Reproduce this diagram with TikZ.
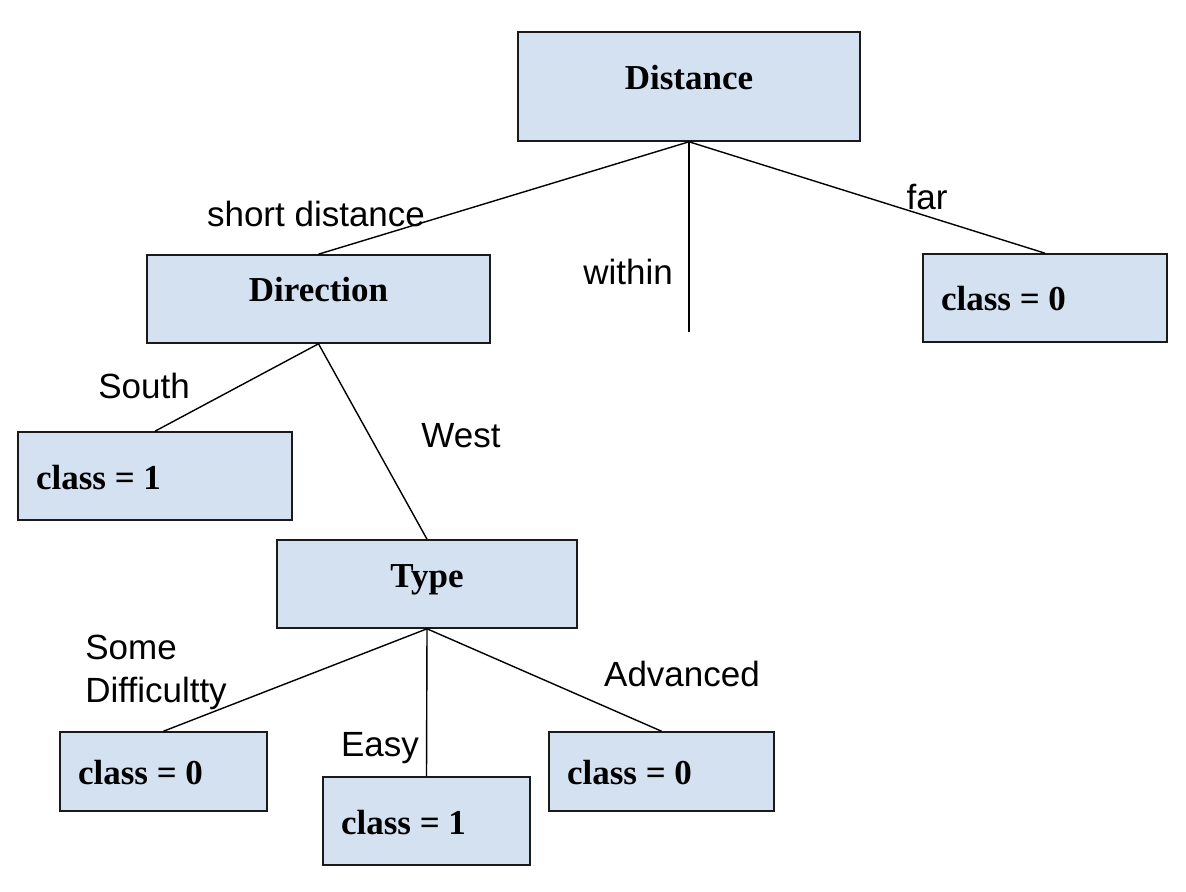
\documentclass[tikz,border=0pt]{standalone}
\usepackage{fontspec}
\setmainfont{Liberation Serif}
\newfontfamily\labelfont{Liberation Sans}
\definecolor{boxfill}{HTML}{D4E1F1}
\definecolor{boxline}{HTML}{1A1A1A}
\tikzset{
  treebox/.style={draw=boxline, fill=boxfill, line width=0.8pt, inner sep=0pt,
    font=\fontsize{17.5}{21}\selectfont\bfseries},
  headbox/.style={treebox, text height=12pt, text depth=9pt},
  classbox/.style={treebox, inner xsep=9pt, text width=#1, align=left,
    text height=13pt, text depth=0pt,
    execute at begin node={\spaceskip=0.25em\relax}},
  lbl/.style={inner sep=0pt, font=\labelfont\fontsize{17.5}{21.5}\selectfont},
  branch/.style={line width=0.7pt}
}
\begin{document}
\begin{tikzpicture}[x=0.5pt, y=-0.5pt]
        \useasboundingbox (0,0) rectangle (1186,892);
        \node[headbox, minimum width=171pt, minimum height=54.5pt] (dist) at (689,86.5) {Distance};
        \node[headbox, minimum width=171.5pt, minimum height=44pt] (dir) at (318.5,299) {Direction};
        \node[headbox, minimum width=150pt, minimum height=44pt] (type) at (427,584) {Type};
        \node[classbox=104pt, minimum height=44pt] (cfar) at (1045,298) {class = 0};
        \node[classbox=119pt, minimum height=44pt] (csouth) at (155,476) {class = 1};
        \node[classbox=85.5pt, minimum height=39.5pt] (csome) at (163.5,771.5) {class = 0};
        \node[classbox=85.5pt, minimum height=44pt] (ceasy) at (426.5,821) {class = 1};
        \node[classbox=94.5pt, minimum height=39.5pt] (cadv) at (661.5,771.5) {class = 0};
        \coordinate (wend) at (689,332);
        \node[lbl] (lshort) at (316,214) {short distance};
        \node[lbl] (lwithin) at (628,272) {within};
        \node[lbl] (lfar) at (927,197) {far};
        \node[lbl] (lsouth) at (144,386) {South};
        \node[lbl] (lwest) at (461,436) {West};
        \node[lbl, anchor=west, align=left] (lsome) at (85,672) {Some\\Difficultty};
        \node[lbl] (leasy) at (380,748) {Easy};
        \node[lbl] (ladv) at (682,674) {Advanced};
        \draw[branch] (dist.south) -- (dir.north);
        \draw[branch] (dist.south) -- (wend);
        \draw[branch] (dist.south) -- (cfar.north);
        \draw[branch] (dir.south) -- (csouth.north);
        \draw[branch] (dir.south) -- (type.north);
        \draw[branch] (type.south) -- (csome.north);
        \draw[branch] (type.south) -- (ceasy.north);
        \draw[branch] (type.south) -- (cadv.north);
      \end{tikzpicture}
\end{document}
